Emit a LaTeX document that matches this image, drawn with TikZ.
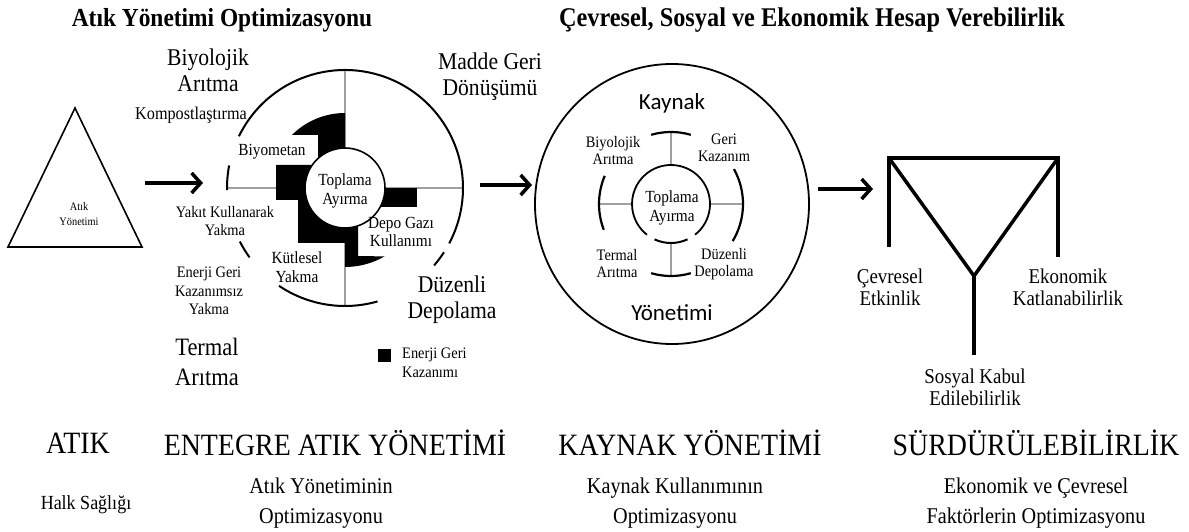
\documentclass[tikz,border=0pt]{standalone}
\usepackage{fontspec}
\setmainfont{Liberation Serif}[FakeStretch=0.9]
\newfontfamily\calibri{Carlito}
\usetikzlibrary{arrows.meta}
\newcommand{\fsz}[2]{\fontsize{#1}{#2}\selectfont}

\begin{document}
\begin{tikzpicture}[x=1pt, y=1pt,
    lbl/.style={inner sep=0pt, align=center},
    title/.style={lbl, font=\bfseries\fsz{26}{28}},
    big/.style={lbl, font=\fsz{24}{26}},
    small/.style={lbl, font=\fsz{17}{18.5}},
    tiny/.style={lbl, font=\fsz{16}{17}},
    ylbl/.style={lbl, font=\fsz{21}{22}},
    head/.style={lbl, font=\fsz{31}{33}},
    sub/.style={lbl, font=\fsz{22.5}{30}},
    axisline/.style={gray!75, line width=1.2pt},
    yline/.style={line width=3.5pt},
    bigarrow/.style={line width=3.5pt, -{Straight Barb[length=9pt,width=20pt,line width=3.5pt]}}]
    \fill[white] (0,0) rectangle (1189,531);
    \useasboundingbox (0,0) rectangle (1189,531);

    % titles
    \node[title] (t1) at (222,511) {Atık Yönetimi Optimizasyonu};
    \node[title, font=\bfseries\fsz{27}{28}] (t2) at (812,511) {Çevresel, Sosyal ve Ekonomik Hesap Verebilirlik};

    % waste triangle
    \draw[line width=1.6pt] (75,423) -- (142,284) -- (8,284) -- cycle;
    \node[lbl, font=\fsz{11.5}{15}] (atik) at (79,317) {Atık\\Yönetimi};

    % arrows between the stages
    \coordinate (a1) at (145,348); \coordinate (b1) at (203,348);
    \coordinate (a2) at (480,346); \coordinate (b2) at (532,346);
    \coordinate (a3) at (818,342); \coordinate (b3) at (873,342);
    \draw[bigarrow] (a1) -- (b1);
    \draw[bigarrow] (a2) -- (b2);
    \draw[bigarrow] (a3) -- (b3);

    % integrated waste management wheel
    \coordinate (c1) at (345,343);
    \draw[axisline] (345,461) -- (345,225);
    \draw[axisline] (227,343) -- (463,343);
    \foreach \a/\b in {154/-28, -33/-41, -74/-124, 207/216, 169/181}
        \draw[line width=2pt] ([shift={(\a:118)}]c1) arc[start angle=\a, end angle=\b, radius=118];
    \fill (345,418) arc[start angle=90, end angle=135, radius=75] -- (318,396) -- (318,366)
        -- (276,366) -- (276,331) -- (298,331) -- (298,288) -- (345,288) -- (345,264)
        arc[start angle=270, end angle=300, radius=79] -- (358,275) -- (358,303) -- (345,343) -- cycle;
    \fill (375,343) rectangle (417,324);
    \draw[fill=white, line width=1.6pt] (c1) circle[radius=40];
    \node[small] (top1) at (345,340) {Toplama\\Ayırma};

    \node[big] (bio1) at (208,461) {Biyolojik\\Arıtma};
    \node[big] (madde) at (490,454) {Madde Geri\\Dönüşümü};
    \node[lbl, font=\fsz{18}{20}] (komp) at (191,416) {Kompostlaştırma};
    \node[small] (biyomet) at (272,379) {Biyometan};
    \node[lbl, font=\fsz{16}{18}] (yakit) at (225,310) {Yakıt Kullanarak\\Yakma};
    \node[small] (depogaz) at (401,299) {Depo Gazı\\Kullanımı};
    \node[small] (kutle) at (297,264) {Kütlesel\\Yakma};
    \node[lbl, font=\fsz{16}{18.5}] (enerji) at (209,240) {Enerji Geri\\Kazanımsız\\Yakma};
    \node[big] (duz1) at (452,231) {Düzenli\\Depolama};
    \node[lbl, font=\fsz{25}{30}] (term1) at (207,169) {Termal\\Arıtma};
    \fill (377.5,169.5) rectangle (390.5,182.5);
    \node[tiny, anchor=west, align=left, font=\fsz{16}{19}] (leg) at (402,168.5) {Enerji Geri\\Kazanımı};

    % resource management circle
    \coordinate (c2) at (672,327);
    \coordinate (c3) at (671,327);
    \draw[line width=1.8pt] (c2) ellipse[x radius=137, y radius=140];
    \node[lbl, font=\calibri\fsz{23}{26}] (kay) at (672,428) {Kaynak};
    \node[lbl, font=\calibri\fsz{23}{26}] (yon) at (672,218) {Yönetimi};
    \foreach \a in {0,90,180,270}
        \draw[axisline] ([shift={(\a:39)}]c3) -- ([shift={(\a:72)}]c3);
    \draw[line width=1.8pt] ([shift={(-52:39)}]c3) arc[start angle=-52, end angle=232, radius=39];
    \draw[line width=2pt] ([shift={(245:39)}]c3) arc[start angle=245, end angle=295, radius=39];
    \foreach \a/\b in {74/106, 157/201, 254/286, -31/29}
        \draw[line width=2.2pt] ([shift={(\a:72)}]c3) arc[start angle=\a, end angle=\b, radius=72];
    \node[tiny] (bio2) at (613,380) {Biyolojik\\Arıtma};
    \node[tiny] (geri2) at (724,383) {Geri\\Kazanım};
    \node[small] (top2) at (672,323) {Toplama\\Ayırma};
    \node[tiny] (term2) at (617,267) {Termal\\Arıtma};
    \node[tiny] (duz2) at (724,267) {Düzenli\\Depolama};

    % sustainability fork
    \coordinate (yl) at (889,373); \coordinate (yr) at (1058,373);
    \coordinate (ylb) at (889,284); \coordinate (yrb) at (1058,274);
    \coordinate (yc) at (974,255); \coordinate (ys) at (974,176);
    \draw[yline] (ylb) -- (yl) -- (yr) -- (yrb);
    \draw[yline] (yl) -- (yc) -- (yr);
    \draw[yline] (yc) -- (ys);
    \node[ylbl] (cevre) at (890,244) {Çevresel\\Etkinlik};
    \node[ylbl] (ekon) at (1068,244) {Ekonomik\\Katlanabilirlik};
    \node[ylbl] (sosyal) at (975,144) {Sosyal Kabul\\Edilebilirlik};

    % stage names
    \node[head] (h1) at (78,88) {ATIK};
    \node[head] (h2) at (335,88) {ENTEGRE ATIK YÖNETİMİ};
    \node[head] (h3) at (690,88) {KAYNAK YÖNETİMİ};
    \node[head] (h4) at (1036,88) {SÜRDÜRÜLEBİLİRLİK};
    \node[lbl, font=\fsz{20}{22}] (s1) at (86,26) {Halk Sağlığı};
    \node[sub] (s2) at (321,28) {Atık Yönetiminin\\Optimizasyonu};
    \node[sub] (s3) at (675,28) {Kaynak Kullanımının\\Optimizasyonu};
    \node[sub] (s4) at (1036,28) {Ekonomik ve Çevresel\\Faktörlerin Optimizasyonu};
\end{tikzpicture}
\end{document}
